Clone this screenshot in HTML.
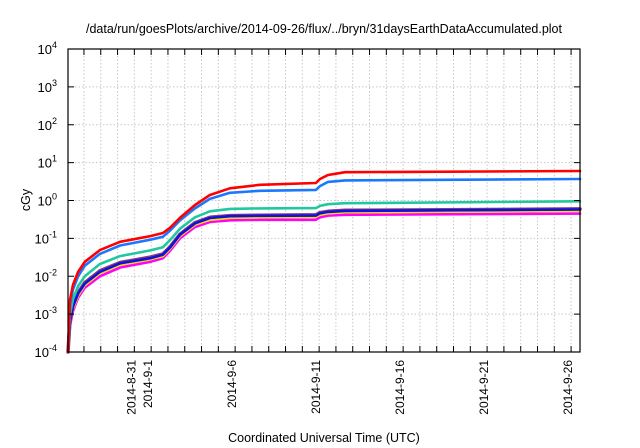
<!DOCTYPE html>
<html><head><meta charset="utf-8"><style>
html,body{margin:0;padding:0;background:#fff;}
svg{display:block;font-family:"Liberation Sans",sans-serif;}
</style></head><body>
<svg id="chart" width="640" height="448">
<text x="324" y="33" text-anchor="middle" font-size="12.5">/data/run/goesPlots/archive/2014-09-26/flux/../bryn/31daysEarthDataAccumulated.plot</text>
<text transform="translate(30,200) rotate(-90)" text-anchor="middle" font-size="12.5">cGy</text>
<text x="324" y="442" text-anchor="middle" font-size="12.5">Coordinated Universal Time (UTC)</text>
<g id="grid"></g><g id="series"></g><g id="axes"></g>
</svg>
<script>
const days=[0,0.12,0.3,0.6,1.0,1.9,3.1,4.9,5.65,6.07,6.67,7.56,8.45,9.64,11.43,14.76,15.0,15.48,16.49,30.48];
const red=[1e-4,0.0024,0.0059,0.013,0.024,0.049,0.081,0.115,0.139,0.19,0.35,0.76,1.4,2.1,2.6,2.9,3.7,4.7,5.6,6.0];
const blue=[1e-4,0.0018,0.0045,0.010,0.019,0.039,0.065,0.092,0.11,0.16,0.30,0.62,1.1,1.6,1.8,1.9,2.4,3.1,3.4,3.7];
const teal=[1e-4,0.0010,0.0025,0.0055,0.010,0.021,0.034,0.048,0.058,0.09,0.18,0.36,0.52,0.60,0.62,0.63,0.72,0.80,0.85,0.95];
const purple=[1e-4,0.0007,0.0017,0.0037,0.0068,0.014,0.023,0.032,0.039,0.06,0.13,0.26,0.36,0.40,0.41,0.42,0.48,0.52,0.55,0.60];
const darkblue=[1e-4,0.00065,0.0016,0.0035,0.0064,0.013,0.022,0.030,0.037,0.057,0.125,0.25,0.345,0.385,0.395,0.40,0.46,0.50,0.53,0.58];
const yellow=[1e-4,0.0006,0.0014,0.0031,0.0058,0.012,0.020,0.028,0.034,0.053,0.115,0.23,0.31,0.35,0.36,0.37,0.42,0.46,0.49,0.53];
const magenta=[1e-4,0.0005,0.0012,0.0027,0.005,0.010,0.017,0.024,0.030,0.047,0.10,0.20,0.27,0.30,0.31,0.31,0.36,0.40,0.42,0.45];
const xTickLabels=["2014-8-31","2014-9-1","2014-9-6","2014-9-11","2014-9-16","2014-9-21","2014-9-26"];
const xTickDays=[3,4,9,14,19,24,29];
const yExps=[-4,-3,-2,-1,0,1,2,3,4];

const L=68,R=580,T=49,B=352,D0=0,D1=30.48;
const NS='http://www.w3.org/2000/svg';
function X(d){return L+(d-D0)/(D1-D0)*(R-L);}
function Y(v){return B-(Math.log10(v)+4)/8*(B-T);}
function mk(tag,at,parent){const e=document.createElementNS(NS,tag);for(const k in at)e.setAttribute(k,at[k]);parent.appendChild(e);return e;}
const grid=document.getElementById('grid'),axes=document.getElementById('axes'),ser=document.getElementById('series');
for(let d=0.95;d<D1;d+=1){const x=X(d);
 const g=mk('line',{x1:x,x2:x,y1:T,y2:B,stroke:'#c8c8c8','stroke-dasharray':'1.5,2','stroke-width':1},grid);
 
 const t1=mk('line',{x1:x,x2:x,y1:B,y2:B-6,stroke:'#000'},axes);
 const t2=mk('line',{x1:x,x2:x,y1:T,y2:T+6,stroke:'#000'},axes);
}
yExps.forEach(e=>{const y=Y(Math.pow(10,e));
 if(e>-4&&e<4){const g=mk('line',{x1:L,x2:R,y1:y,y2:y,stroke:'#c8c8c8','stroke-dasharray':'1.5,2'},grid);}
 const t=mk('line',{x1:L,x2:L+6,y1:y,y2:y,stroke:'#000'},axes);
 const t2=mk('line',{x1:R,x2:R-6,y1:y,y2:y,stroke:'#000'},axes);
 const tx=mk('text',{x:57,y:y+5,'text-anchor':'end','font-size':13},axes);
 
 tx.textContent='10';const s=mk('tspan',{dy:-6,'font-size':9},tx);s.textContent=String(e);
});
xTickDays.forEach((d,i)=>{const x=X(d+0.95);
  const t=mk('text',{transform:`translate(${(x+1).toFixed(1)},360) rotate(-90)`,'text-anchor':'end','font-size':12},axes);
  t.textContent=xTickLabels[i];
});
const frame=mk('rect',{x:L,y:T,width:R-L,height:B-T,fill:'none',stroke:'#000','stroke-width':1.2},axes);

const series=[[magenta,'#ff00ff','magenta'],[yellow,'#f0e000','yellow'],[purple,'#8a3c78','purple'],[darkblue,'#1010e0','dark-blue'],[teal,'#20c8a0','teal'],[blue,'#1a78ff','blue'],[red,'#ff0000','red']];
series.forEach(([vals,c,n])=>{
 const pts=days.map((d,i)=>X(d).toFixed(1)+','+Y(vals[i]).toFixed(1)).join(' ');
 const p=mk('polyline',{points:pts,fill:'none',stroke:c,'stroke-width':n==='purple'?3.5:2.6,'stroke-linejoin':'round','stroke-linecap':'round'},ser);
 
 
});
</script>
</body></html>
